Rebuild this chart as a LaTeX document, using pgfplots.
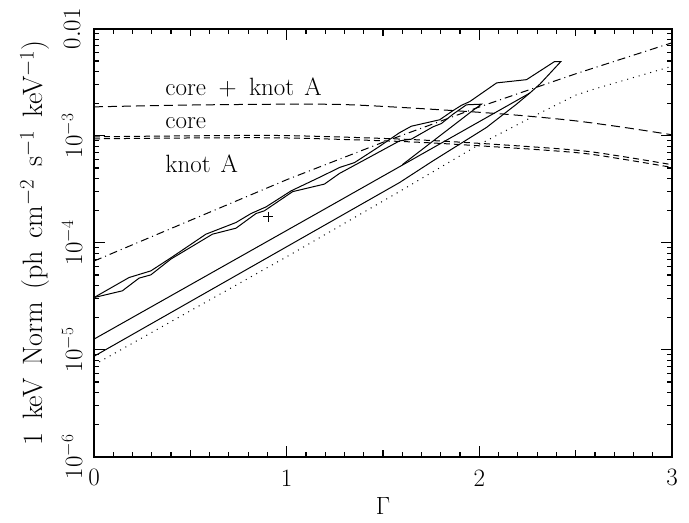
\documentclass[border=0pt]{standalone}
\usepackage{pgfplots}
\pgfplotsset{compat=1.18}
\begin{document}
\fontsize{25}{29}\selectfont
\begin{tikzpicture}
\begin{axis}[name=ax,
  scale only axis, width=578pt, height=428pt,
  xmin=0, xmax=3, ymode=log, ymin=1e-6, ymax=1e-2,
  xtick={0,1,2,3}, xticklabels={0,1,2,3},
  minor xtick={0.1,0.2,0.3,0.4,0.6,0.7,0.8,0.9,1.1,1.2,1.3,1.4,1.6,1.7,1.8,1.9,2.1,2.2,2.3,2.4,2.6,2.7,2.8,2.9},
  extra x ticks={0.5,1.5,2.5}, extra x tick labels={},
  extra x tick style={major tick length=7pt},
  ytick={1e-6,1e-5,1e-4,1e-3,1e-2},
  minor ytick={2e-6,3e-6,4e-6,5e-6,6e-6,7e-6,8e-6,9e-6,2e-5,3e-5,4e-5,5e-5,6e-5,7e-5,8e-5,9e-5,2e-4,3e-4,4e-4,5e-4,6e-4,7e-4,8e-4,9e-4,2e-3,3e-3,4e-3,5e-3,6e-3,7e-3,8e-3,9e-3},
  yticklabels={$10^{-6}$,$10^{-5}$,$10^{-4}$,$10^{-3}$,$0.01$},
  tick align=inside, major tick length=11pt, minor tick length=5pt,
  tick style={black, line width=1.2pt},
  axis line style={line width=1.6pt},
  xticklabel style={anchor=center, yshift=-21pt},
  yticklabel style={xshift=-22pt, rotate=90, anchor=center},
  xlabel={$\Gamma$},
  ylabel={\fontsize{28}{32}\selectfont 1\hspace{0.45em}keV\hspace{0.45em}Norm\hspace{0.45em}(ph\hspace{0.45em}cm$^{-2}$\hspace{0.45em}s$^{-1}$\hspace{0.45em}keV$^{-1}$)},
  xlabel style={at={(axis description cs:0.5,-0.115)}, anchor=center},
  ylabel style={at={(axis description cs:-0.102,0.5)}, anchor=center, rotate=0},
  clip=true,
]
% outer contour upper edge + tip + lower edge
\addplot[black, line width=1pt] coordinates {
(0,3.08e-5) (0.182,4.74e-5) (0.295,5.47e-5) (0.407,7.40e-5) (0.581,1.205e-4)
(0.737,1.549e-4) (0.815,1.879e-4) (0.893,2.168e-4) (1.023,3.06e-4) (1.187,4.23e-4)
(1.274,5.06e-4) (1.352,5.62e-4) (1.473,7.78e-4) (1.586,1.07e-3) (1.647,1.23e-3)
(1.794,1.413e-3) (1.862,1.714e-3) (1.907,1.928e-3) (1.950,2.089e-3) (2.09,3.126e-3)
(2.245,3.35e-3) (2.39,4.94e-3) (2.423,4.94e-3) (2.314,3.04e-3) (2.262,2.51e-3)
(1.187,2.02e-4) (0,1.259e-5)};
% lowest solid line
\addplot[black, line width=1pt] coordinates {
(0,8.7e-6) (1.586,3.66e-4) (1.759,5.83e-4) (2.037,1.197e-3) (2.193,1.977e-3) (2.262,2.51e-3)};
% inner contour
\addplot[black, line width=1pt] coordinates {
(0,3.08e-5) (0.147,3.56e-5) (0.234,4.68e-5) (0.295,5.02e-5) (0.399,7.05e-5)
(0.615,1.205e-4) (0.737,1.371e-4) (0.841,1.879e-4) (0.884,1.991e-4) (1.031,3.01e-4)
(1.196,3.54e-4) (1.274,4.45e-4) (1.586,8.97e-4) (1.647,9.31e-4) (1.759,1.213e-3)
(1.803,1.303e-3) (1.864,1.596e-3) (1.933,1.95e-3) (2.011,1.977e-3) (1.959,1.687e-3)
(1.6,5.37e-4)};
% dash-dot
\addplot[black, line width=1pt, dash pattern=on 8pt off 4pt on 1pt off 4pt] coordinates {
(0,6.76e-5) (0.5,1.622e-4) (1,3.89e-4) (1.5,8.71e-4) (2,1.862e-3) (2.5,3.80e-3) (3,7.41e-3)};
% dotted
\addplot[black, line width=1pt, dash pattern=on 1pt off 5pt] coordinates {
(0,7.24e-6) (1,7.41e-5) (1.586,3.02e-4) (2.0,8.32e-4) (2.3,1.585e-3) (2.5,2.40e-3) (2.6,2.75e-3) (3,4.47e-3)};
% core + knot A
\addplot[black, line width=1pt, dash pattern=on 9pt off 5pt, smooth] coordinates {
(0,1.866e-3) (0.5,1.941e-3) (1.0,1.977e-3) (1.3,1.959e-3) (1.6,1.841e-3) (2.0,1.66e-3) (2.25,1.53e-3) (2.5,1.38e-3) (2.75,1.20e-3) (3.0,1.023e-3)};
% core
\addplot[black, line width=1pt, dash pattern=on 6pt off 4pt, smooth] coordinates {
(0,9.79e-4) (0.5,1.0e-3) (1.0,1.005e-3) (1.6,9.31e-4) (2.0,8.51e-4) (2.5,7.35e-4) (2.75,6.38e-4) (3.0,5.37e-4)};
% knot A
\addplot[black, line width=1pt, dash pattern=on 6pt off 4pt, smooth] coordinates {
(0,9.38e-4) (0.5,9.55e-4) (1.0,9.55e-4) (1.6,8.85e-4) (2.0,8.07e-4) (2.5,6.98e-4) (2.75,6.03e-4) (3.0,5.07e-4)};
% best fit
\addplot[black, only marks, mark=+, mark size=5pt, mark options={line width=1pt}] coordinates {(0.905,1.75e-4)};
\node[anchor=west, inner sep=0pt] at (axis cs:0.37,2.81e-3) {core\hspace{0.5em}+\hspace{0.5em}knot\hspace{0.4em}A};
\node[anchor=west, inner sep=0pt] at (axis cs:0.37,1.32e-3) {core};
\node[anchor=west, inner sep=0pt] at (axis cs:0.37,5.47e-4) {knot\hspace{0.4em}A};
\end{axis}
\path (ax.south west) ++(-94pt,-56pt) rectangle ++(689pt,512pt);
\end{tikzpicture}
\end{document}
